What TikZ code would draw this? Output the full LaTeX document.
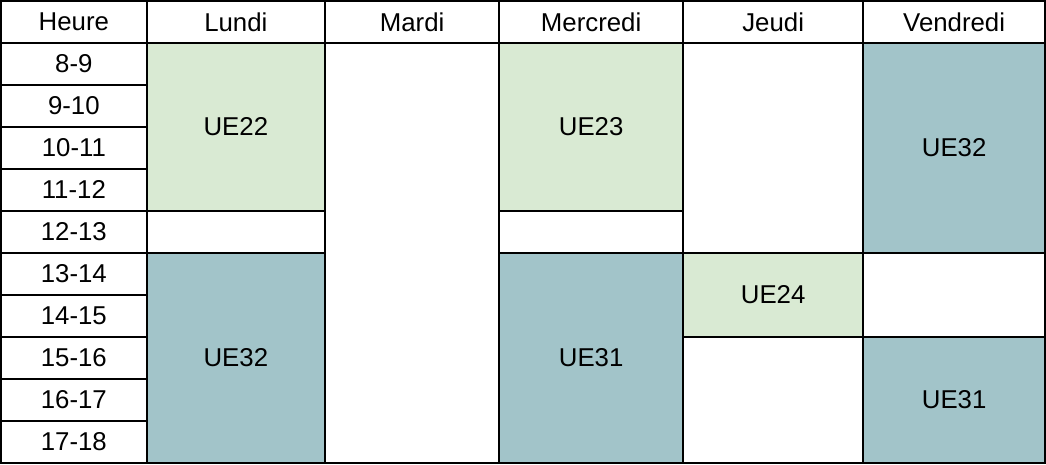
\documentclass[tikz,border=0pt]{standalone}
\usepackage{fontspec}
\setmainfont{Liberation Sans}
\definecolor{uegreen}{HTML}{D9EAD3}
\definecolor{ueteal}{HTML}{A2C4C9}
\newcommand\mycell[7]{%
  \pgfmathsetmacro\cw{#4-#2}\pgfmathsetmacro\ch{#5-#3}%
  \node[cell,#6,minimum width=\cw pt,minimum height=\ch pt] (#1) at ({(#2+#4)/2},{(#3+#5)/2}) {#7};}
\begin{document}
\begin{tikzpicture}[x=1pt,y=-1pt,
  cell/.style={draw=black,line width=2.3pt,rectangle,inner sep=0pt,outer sep=0pt,fill=white,
    font=\fontsize{25.8}{30}\selectfont,text=black},
  green/.style={fill=uegreen},
  teal/.style={fill=ueteal}]
\useasboundingbox (0,0) rectangle (1046,464);
% header
\mycell{hH}{1}{1}{146.7}{42.7}{}{Heure}
\mycell{hLu}{146.7}{1}{325}{42.7}{}{Lundi}
\mycell{hMa}{325}{1}{499.3}{42.7}{}{Mardi}
\mycell{hMe}{499.3}{1}{683}{42.7}{}{Mercredi}
\mycell{hJe}{683}{1}{863.3}{42.7}{}{Jeudi}
\mycell{hVe}{863.3}{1}{1045}{42.7}{}{Vendredi}
% hours
\mycell{t8}{1}{42.7}{146.7}{84.73}{}{8-9}
\mycell{t9}{1}{84.73}{146.7}{126.76}{}{9-10}
\mycell{t10}{1}{126.76}{146.7}{168.79}{}{10-11}
\mycell{t11}{1}{168.79}{146.7}{210.82}{}{11-12}
\mycell{t12}{1}{210.82}{146.7}{252.85}{}{12-13}
\mycell{t13}{1}{252.85}{146.7}{294.88}{}{13-14}
\mycell{t14}{1}{294.88}{146.7}{336.91}{}{14-15}
\mycell{t15}{1}{336.91}{146.7}{378.94}{}{15-16}
\mycell{t16}{1}{378.94}{146.7}{420.97}{}{16-17}
\mycell{t17}{1}{420.97}{146.7}{463}{}{17-18}
% Lundi
\mycell{luA}{146.7}{42.7}{325}{210.82}{green}{UE22}
\mycell{luB}{146.7}{210.82}{325}{252.85}{}{}
\mycell{luC}{146.7}{252.85}{325}{463}{teal}{UE32}
% Mardi
\mycell{ma}{325}{42.7}{499.3}{463}{}{}
% Mercredi
\mycell{meA}{499.3}{42.7}{683}{210.82}{green}{UE23}
\mycell{meB}{499.3}{210.82}{683}{252.85}{}{}
\mycell{meC}{499.3}{252.85}{683}{463}{teal}{UE31}
% Jeudi
\mycell{jeA}{683}{42.7}{863.3}{252.85}{}{}
\mycell{jeB}{683}{252.85}{863.3}{336.91}{green}{UE24}
\mycell{jeC}{683}{336.91}{863.3}{463}{}{}
% Vendredi
\mycell{veA}{863.3}{42.7}{1045}{252.85}{teal}{UE32}
\mycell{veB}{863.3}{252.85}{1045}{336.91}{}{}
\mycell{veC}{863.3}{336.91}{1045}{463}{teal}{UE31}
\end{tikzpicture}
\end{document}
